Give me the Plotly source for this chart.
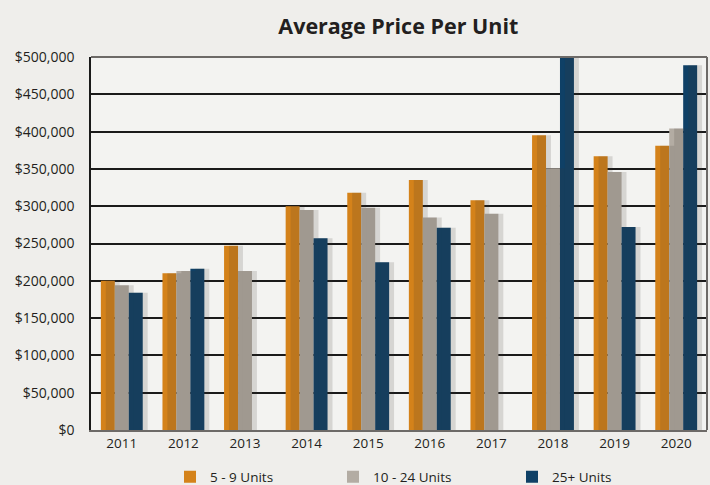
import plotly.graph_objects as go

years = ["2011", "2012", "2013", "2014", "2015", "2016", "2017", "2018", "2019", "2020"]
units_5_9 = [200000, 210000, 247000, 300000, 318000, 335000, 308000, 395000, 367000, 381000]
units_10_24 = [194000, 213000, 213000, 295000, 298000, 285000, 290000, 351000, 346000, 404000]
units_25_plus = [184000, 216000, None, 257000, 225000, 271000, None, 501000, 272000, 489000]

series_names = ["5 - 9 Units", "10 - 24 Units", "25+ Units"]
series_colors = ["#d4821a", "#b3aca3", "#0f4066"]
series_values = [units_5_9, units_10_24, units_25_plus]

y_ticks = [0, 50000, 100000, 150000, 200000, 250000, 300000, 350000, 400000, 450000, 500000]
y_tick_labels = ["$0", "$50,000", "$100,000", "$150,000", "$200,000", "$250,000",
                 "$300,000", "$350,000", "$400,000", "$450,000", "$500,000"]

FONT = "Open Sans"
TXT = "#231f20"

fig = go.Figure()

# soft drop shadows (same data, slightly offset overlay axis)
for name, vals in zip(series_names, series_values):
    fig.add_trace(go.Bar(
        x=years, y=vals, name=name, xaxis="x2", yaxis="y",
        marker=dict(color="rgba(60,55,50,0.16)", line=dict(width=0)),
        showlegend=False, hoverinfo="skip",
    ))

legend_ids = ["legend", "legend2", "legend3"]
for name, color, vals, lg in zip(series_names, series_colors, series_values, legend_ids):
    fig.add_trace(go.Bar(
        x=years, y=vals, name=name, legend=lg,
        marker=dict(color=color, line=dict(width=0)),
    ))

def legend_at(xpx):
    return dict(
        orientation="h", xref="container", yref="container",
        x=xpx / 710, xanchor="left", y=(485 - 477) / 485, yanchor="middle",
        font=dict(size=13.5, color=TXT), bgcolor="rgba(0,0,0,0)",
    )

fig.update_layout(
    width=710, height=485,
    margin=dict(l=91, r=3, t=57, b=55, autoexpand=False),
    paper_bgcolor="#efeeeb",
    plot_bgcolor="#f3f3f1",
    barmode="group",
    bargap=0.32,
    bargroupgap=0,
    font=dict(family=FONT, color=TXT, size=13),
    title=dict(
        text="<b>Average Price Per Unit</b>",
        x=0.561, xanchor="center", y=0.945, yanchor="middle",
        font=dict(family=FONT, size=21.5, color=TXT),
    ),
    xaxis=dict(
        type="category", range=[-0.5, 9.5], automargin=False,
        showgrid=False, showline=True, linecolor="#6d6a67", linewidth=2,
        ticks="", tickfont=dict(size=13.5, color=TXT), ticklabelstandoff=0,
        zeroline=False,
    ),
    xaxis2=dict(
        type="category", overlaying="x", range=[-0.58, 9.42],
        visible=False,
    ),
    yaxis=dict(
        range=[0, 500000], tickvals=y_ticks, ticktext=y_tick_labels, automargin=False,
        showgrid=True, gridcolor="#1a1a1a", gridwidth=1.5,
        showline=True, linecolor="#1a1a1a", linewidth=1.5,
        ticks="", tickfont=dict(size=14, color=TXT), ticklabelstandoff=12,
        zeroline=False,
    ),
    legend=legend_at(170),
    legend2=legend_at(333),
    legend3=legend_at(512),
    shapes=[
        dict(type="line", xref="paper", yref="paper", x0=0, x1=1, y0=1, y1=1,
             line=dict(color="#6d6a67", width=2), layer="above"),
        dict(type="line", xref="paper", yref="paper", x0=1, x1=1, y0=0, y1=1,
             line=dict(color="#6d6a67", width=2), layer="above"),
    ],
)

fig.write_html("out.html", config={"displayModeBar": False},
               post_script="document.body.style.margin='0';")
